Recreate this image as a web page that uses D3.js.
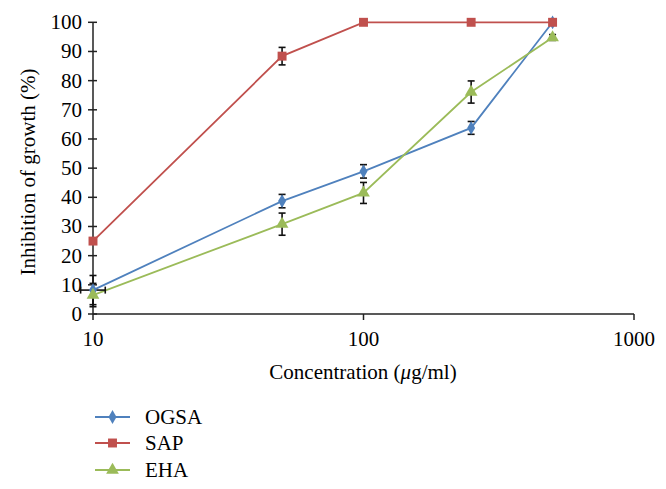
<!DOCTYPE html>
<html><head><meta charset="utf-8">
<script src="https://cdn.jsdelivr.net/npm/d3@7"></script>
<style>body{margin:0;background:#fff}svg{display:block}text{font-family:"Liberation Serif","Times New Roman",serif;fill:#000}</style>
</head><body><svg id="c" width="666" height="489"></svg>
<script>
const concentrations = [10, 50, 100, 250, 500];
const ogsa = [8.2, 38.7, 48.9, 63.8, 100];
const ogsaErr = [5, 2.3, 2.3, 2.2, 0];
const sap = [25, 88.4, 100, 100, 100];
const sapErr = [0, 3, 0, 0, 0];
const eha = [6.5, 30.8, 41.5, 76.1, 94.8];
const ehaErr = [4, 3.8, 3.6, 3.8, 1];
const ogsaXErrLow = [9, null, null, null, null];
const ogsaXErrHigh = [11.1, null, null, null, null];
const xTicks = [10, 100, 1000];
const yTicks = [0, 10, 20, 30, 40, 50, 60, 70, 80, 90, 100];
const seriesNames = ["OGSA", "SAP", "EHA"];
const colors = ["#4F81BD", "#C0504D", "#9BBB59"];

const series = [
  {name: seriesNames[0], values: ogsa, err: ogsaErr, color: colors[0], shape: d3.symbolDiamond, size: 55, xlo: ogsaXErrLow, xhi: ogsaXErrHigh},
  {name: seriesNames[1], values: sap, err: sapErr, color: colors[1], shape: d3.symbolSquare, size: 80},
  {name: seriesNames[2], values: eha, err: ehaErr, color: colors[2], shape: d3.symbolTriangle, size: 70}
];

const FS = 21;
const svg = d3.select("#c");
const x = d3.scaleLog().domain([10, 1000]).range([93, 634]);
const y = d3.scaleLinear().domain([0, 100]).range([314, 22.3]);

// axes
const g = svg.append("g");
g.append("line").attr("x1", x(10)).attr("x2", x(1000)).attr("y1", y(0)).attr("y2", y(0)).attr("stroke", "#222").attr("stroke-width", 1.5);
g.append("line").attr("x1", x(10)).attr("x2", x(10)).attr("y1", y(0)).attr("y2", y(100)).attr("stroke", "#222").attr("stroke-width", 1.5);
yTicks.forEach(t => {
  g.append("line").attr("x1", x(10) - 5).attr("x2", x(10) + 4).attr("y1", y(t)).attr("y2", y(t)).attr("stroke", "#222").attr("stroke-width", 1.5);
  g.append("text").attr("x", x(10) - 11).attr("y", y(t)).attr("dy", "0.33em").attr("text-anchor", "end").attr("font-size", FS).text(t);
});
xTicks.forEach(t => {
  g.append("line").attr("x1", x(t)).attr("x2", x(t)).attr("y1", y(0)).attr("y2", y(0) + 6).attr("stroke", "#222").attr("stroke-width", 1.5);
  g.append("text").attr("x", x(t)).attr("y", 339).attr("dy", "0.35em").attr("text-anchor", "middle").attr("font-size", FS).text(t);
});
g.append("text").attr("x", 363).attr("y", 372).attr("dy", "0.35em").attr("text-anchor", "middle").attr("font-size", FS)
  .html('Concentration (<tspan font-style="italic">μ</tspan>g/ml)');
g.append("text").attr("transform", "translate(28,172) rotate(-90)").attr("dy", "0.35em").attr("text-anchor", "middle").attr("font-size", FS)
  .text("Inhibition of growth (%)");

const line = d3.line().x((d, i) => x(concentrations[i])).y(d => y(d));
series.forEach(s => {
  svg.append("path").datum(s.values).attr("d", line).attr("fill", "none").attr("stroke", s.color).attr("stroke-width", 1.8);
});
// error bars
const eg = svg.append("g").attr("stroke", "#111").attr("stroke-width", 1.6);
series.forEach(s => {
  s.values.forEach((v, i) => {
    const e = s.err[i];
    if (e > 0) {
      const cx = x(concentrations[i]);
      eg.append("line").attr("x1", cx).attr("x2", cx).attr("y1", y(v - e)).attr("y2", y(v + e));
      eg.append("line").attr("x1", cx - 3.5).attr("x2", cx + 3.5).attr("y1", y(v - e)).attr("y2", y(v - e));
      eg.append("line").attr("x1", cx - 3.5).attr("x2", cx + 3.5).attr("y1", y(v + e)).attr("y2", y(v + e));
    }
    if (s.xlo && s.xlo[i] != null) {
      const cy = y(v);
      eg.append("line").attr("x1", x(s.xlo[i])).attr("x2", x(s.xhi[i])).attr("y1", cy).attr("y2", cy);
      eg.append("line").attr("x1", x(s.xlo[i])).attr("x2", x(s.xlo[i])).attr("y1", cy - 3.5).attr("y2", cy + 3.5);
      eg.append("line").attr("x1", x(s.xhi[i])).attr("x2", x(s.xhi[i])).attr("y1", cy - 3.5).attr("y2", cy + 3.5);
    }
  });
});
// markers
series.forEach(s => {
  svg.append("g").selectAll("path").data(s.values).join("path")
    .attr("transform", (d, i) => `translate(${x(concentrations[i])},${y(d)})`)
    .attr("d", d3.symbol().type(s.shape).size(s.size)).attr("fill", s.color);
});
// legend
const legY = [417, 443, 470];
series.forEach((s, i) => {
  const lg = svg.append("g").attr("transform", `translate(0,${legY[i]})`);
  lg.append("line").attr("x1", 95).attr("x2", 130).attr("y1", 0).attr("y2", 0).attr("stroke", s.color).attr("stroke-width", 1.8);
  lg.append("path").attr("transform", "translate(112.5,0)").attr("d", d3.symbol().type(s.shape).size(s.size)).attr("fill", s.color);
  lg.append("text").attr("x", 145).attr("y", 0).attr("dy", "0.35em").attr("font-size", FS).text(s.name);
});
</script></body></html>
